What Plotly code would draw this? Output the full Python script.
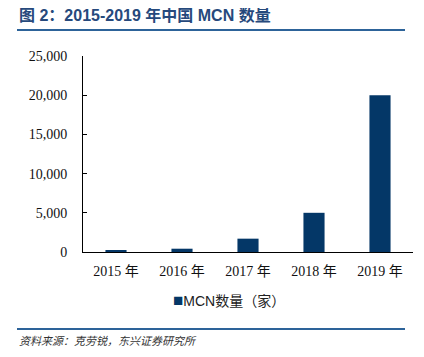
import plotly.graph_objects as go

categories = ["2015 年", "2016 年", "2017 年", "2018 年", "2019 年"]
mcn_counts = [160, 420, 1700, 5000, 20000]
series_name = "MCN数量（家）"
y_tick_vals = [0, 5000, 10000, 15000, 20000, 25000]
y_tick_text = ["0", "5,000", "10,000", "15,000", "20,000", "25,000"]
bar_color = "#043767"

OFF = 8  # page body margin
W, H = 424 - OFF, 357 - OFF
L, R, T, B = 83 - OFF, 19 - OFF, 56 - OFF, 105
pw, ph = W - L - R, H - T - B

def px(x):
    return (x - OFF - L) / pw

def py(y):
    return (T + ph - (y - OFF)) / ph

fig = go.Figure()
fig.add_trace(go.Bar(
    x=categories, y=mcn_counts, name=series_name, showlegend=False,
    marker=dict(color=bar_color, line=dict(width=0)),
    width=0.32,
))

fig.update_layout(
    width=W, height=H,
    margin=dict(l=L, r=R, t=T, b=B),
    plot_bgcolor="white", paper_bgcolor="white",
    showlegend=False,
    xaxis=dict(showline=True, linecolor="#000", linewidth=1, ticks="",
               ticklabelstandoff=6,
               tickfont=dict(family="Liberation Serif, Noto Sans CJK SC", size=14, color="#111"),
               showgrid=False, fixedrange=True),
    yaxis=dict(range=[0, 25000], showline=True, linecolor="#000", linewidth=1,
               ticks="inside", ticklen=4, tickcolor="#000",
               tickvals=y_tick_vals, ticktext=y_tick_text, ticklabelstandoff=12,
               tickfont=dict(family="Liberation Serif", size=14, color="#111"),
               showgrid=False, zeroline=False, fixedrange=True),
)

# legend entry
fig.add_annotation(text=f"<span style='color:{bar_color};font-size:17px'>■</span>{series_name}",
                   xref="paper", yref="paper", x=px(171), y=py(300),
                   xanchor="left", yanchor="middle", showarrow=False,
                   font=dict(family="Liberation Sans, Noto Sans CJK SC", size=14, color="#222"))

fig.add_annotation(text="<b>图 2：2015-2019 年中国 MCN 数量</b>", xref="paper", yref="paper",
                   x=px(17), y=py(15), xanchor="left", yanchor="middle", showarrow=False,
                   font=dict(family="Liberation Sans, Noto Sans CJK SC", size=16, color="#26497C"))
fig.add_shape(type="line", xref="paper", yref="paper", x0=px(17), x1=px(405), y0=py(30), y1=py(30),
              line=dict(color="#2D6399", width=2))
fig.add_shape(type="line", xref="paper", yref="paper", x0=px(17), x1=px(405), y0=py(329), y1=py(329),
              line=dict(color="#2D6399", width=2))
fig.add_annotation(text="<i>资料来源：克劳锐，东兴证券研究所</i>", xref="paper", yref="paper",
                   x=px(17), y=py(340), xanchor="left", yanchor="middle", showarrow=False,
                   font=dict(family="Noto Sans CJK SC", size=11, color="#333"))

fig.write_html("out.html")
